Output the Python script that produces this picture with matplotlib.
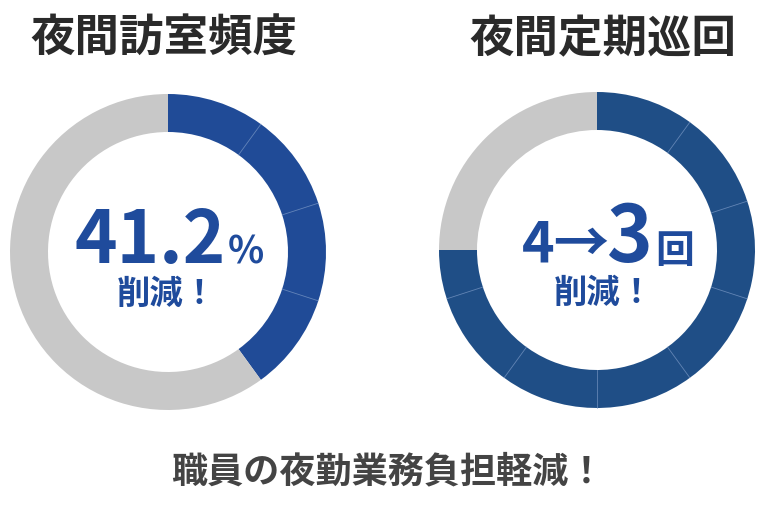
import numpy as np
import matplotlib.pyplot as plt

plt.rcParams['font.family'] = ['Noto Sans CJK JP', 'DejaVu Sans']

# データ
titles = ["夜間訪室頻度", "夜間定期巡回"]
blue_share = [40, 75]          # リングの青い部分 (%)
step = 10                      # 区切り線の間隔 (%)
footer = "職員の夜勤業務負担軽減！"

W, H = 768, 507
fig = plt.figure(figsize=(W / 100, H / 100), dpi=100)
ax = fig.add_axes([0, 0, 1, 1])

centers = [(168, H - 252), (597, H - 250)]
title_x = [164, 603]
ring_colors = ["#204b97", "#1f4e86"]
gray = "#c8c8c8"
text_blue = "#1f4b9c"
r_out, width = 158, 38

for i in range(2):
    cx, cy = centers[i]
    b = blue_share[i]
    ax.pie([b, 100 - b], colors=[ring_colors[i], gray], startangle=90,
           counterclock=False, radius=r_out, center=(cx, cy),
           wedgeprops=dict(width=width, linewidth=0))
    # 青い部分の区切り線
    for p in np.arange(step, b, step):
        ang = np.deg2rad(90 - p * 3.6)
        rr = np.array([r_out - width, r_out])
        ax.plot(cx + rr * np.cos(ang), cy + rr * np.sin(ang),
                color="#7f9cc8", lw=0.6, alpha=0.7)
    ax.text(title_x[i], H - 39, titles[i], fontsize=32, fontweight="bold",
            color="#2a2a2a", ha="center", va="center")

# 中央テキスト（左）
ax.text(226, H - 263, "41.2", fontsize=52, fontweight="bold", color=text_blue,
        ha="right", va="baseline")
ax.text(228, H - 264, "%", fontsize=27, fontweight="bold", color=text_blue,
        ha="left", va="baseline")
ax.text(167, H - 294, "削減！", fontsize=24, fontweight="bold", color=text_blue,
        ha="center", va="center")

# 中央テキスト（右）
ax.text(522, H - 261, "4→", fontsize=40, fontweight="bold", color=text_blue,
        ha="left", va="baseline")
ax.text(652, H - 262, "3", fontsize=56, fontweight="bold", color=text_blue,
        ha="right", va="baseline")
ax.text(655, H - 263, "回", fontsize=28, fontweight="bold", color=text_blue,
        ha="left", va="baseline")
ax.text(604, H - 293, "削減！", fontsize=24, fontweight="bold", color=text_blue,
        ha="center", va="center")

ax.text(388, H - 472, footer, fontsize=26, fontweight="bold", color="#444444",
        ha="center", va="center")

ax.set_xlim(0, W)
ax.set_ylim(0, H)
ax.set_aspect("equal")
ax.axis("off")

fig.savefig("out.png", dpi=100, facecolor="white")
